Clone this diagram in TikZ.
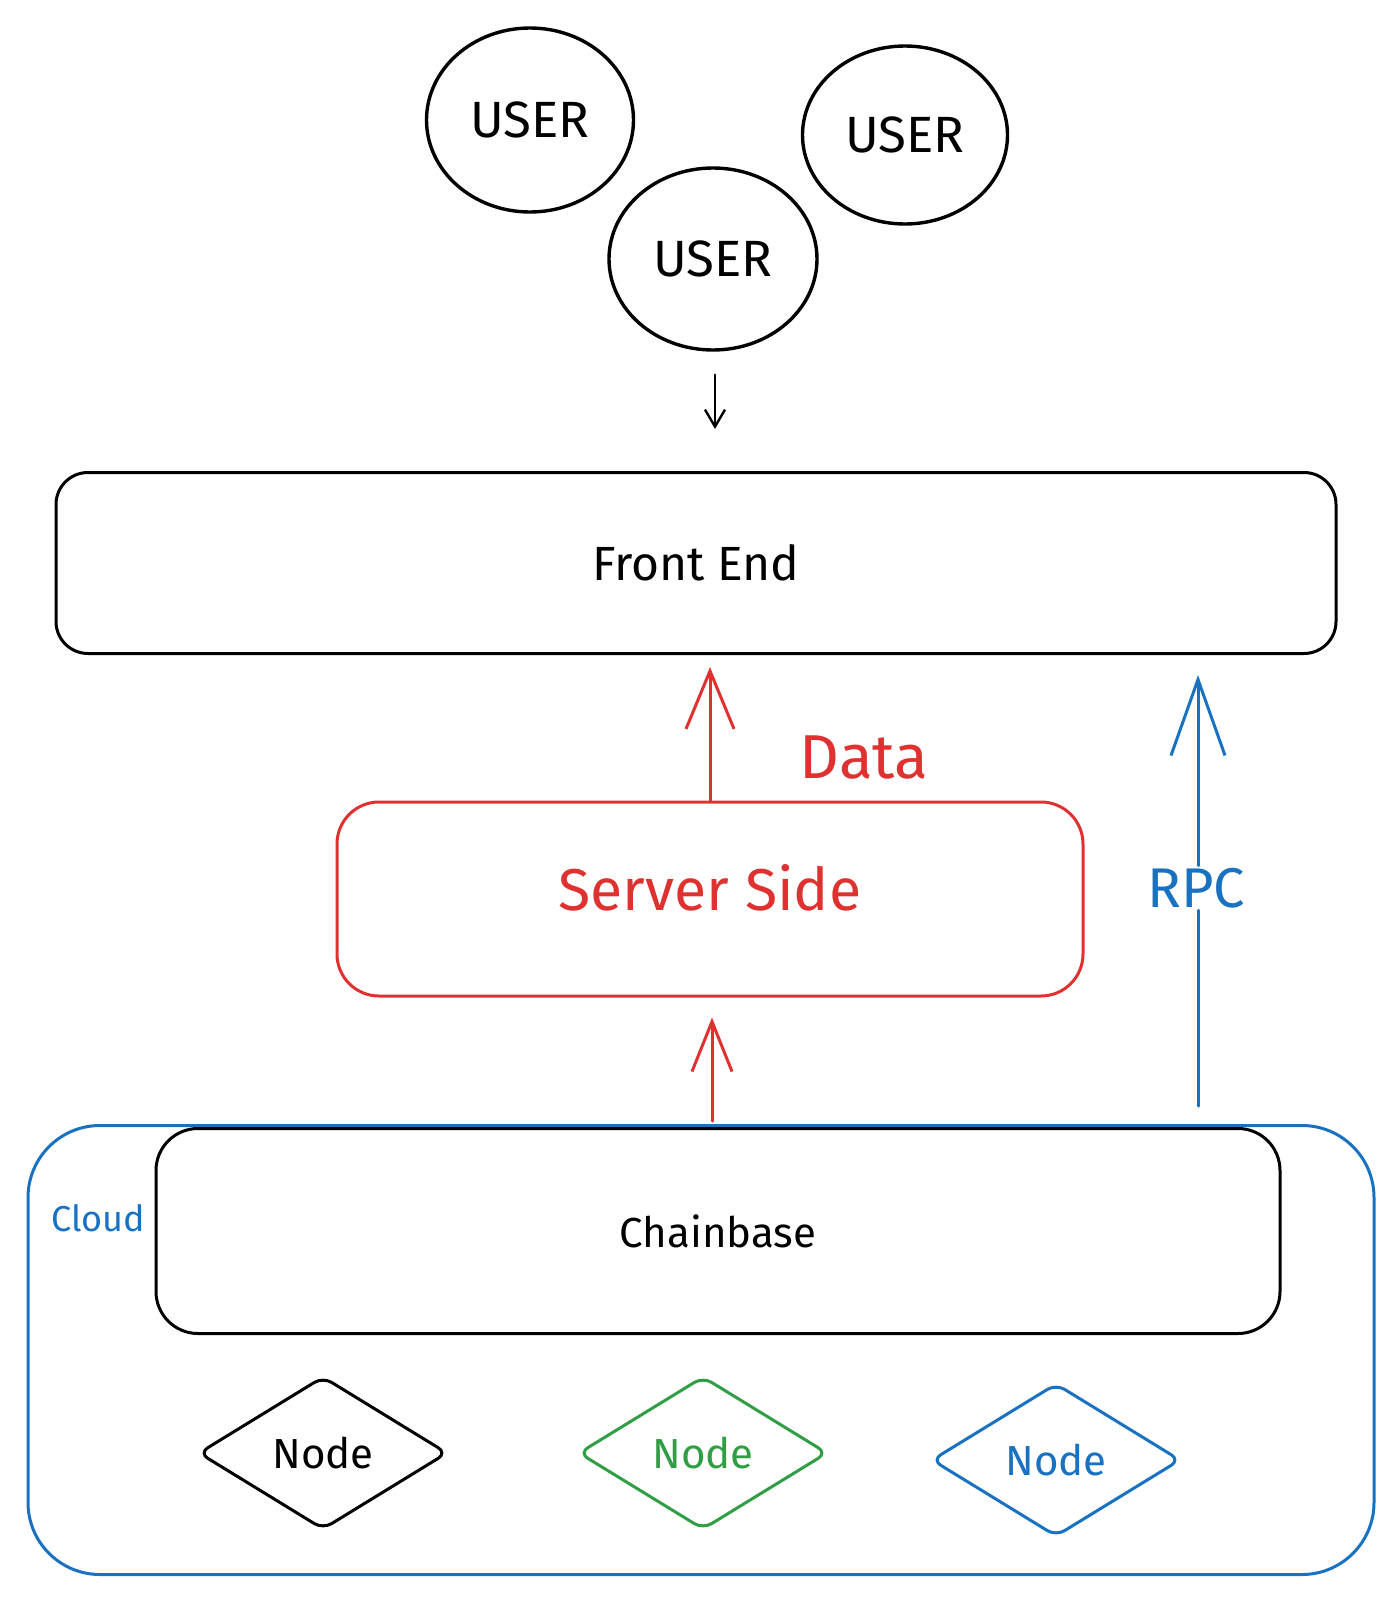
\documentclass[tikz,border=0pt]{standalone}
\usepackage{fontspec}
\setmainfont{Fira Sans}
\usetikzlibrary{arrows.meta,shapes.geometric,calc}
\definecolor{xred}{HTML}{E03131}
\definecolor{xgreen}{HTML}{2F9E44}
\definecolor{xblue}{HTML}{1971C2}
\begin{document}
\begin{tikzpicture}[x=1pt,y=-1pt,
  line width=3pt, line join=round, line cap=round,
  user/.style={draw,ellipse,inner sep=0pt,line width=3.4pt,font=\fontsize{51}{58}\selectfont},
  box/.style={draw,rectangle,inner sep=0pt},
  dnode/.style={draw,diamond,inner sep=0pt,minimum width=249pt,minimum height=153pt,
    aspect=1.63,rounded corners=10pt,font=\fontsize{42}{48}\selectfont},
  lbl/.style={inner sep=2pt,font=\fontsize{#1}{#1}\selectfont},
  barbA/.style={-{Straight Barb[length=58pt,width=48pt]}},
  barbB/.style={-{Straight Barb[length=50pt,width=40pt]}},
  barbC/.style={-{Straight Barb[length=76pt,width=54pt]}},
  barbD/.style={-{Straight Barb[length=17pt,width=20pt]}}]
\useasboundingbox (0,0) rectangle (1400,1601);

% users
\node[user,minimum width=207pt,minimum height=184pt] (u1) at (530,120) {USER};
\node[user,minimum width=205pt,minimum height=178pt] (u2) at (905,135) {USER};
\node[user,minimum width=208pt,minimum height=182pt] (u3) at (713,259) {USER};

% front end
\node[box,rounded corners=32pt,minimum width=1280pt,minimum height=181pt,
      font=\fontsize{48}{54}\selectfont] (fe) at (696,563) {Front End};

% server side
\node[box,draw=xred,rounded corners=42pt,minimum width=746pt,minimum height=194pt,
      label={[lbl=59,text=xred,yshift=11pt]center:Server Side}] (ss) at (710,899) {};
\node[lbl=62,text=xred] (data) at (864,758) {Data};

% cloud
\node[box,draw=xblue,rounded corners=72pt,minimum width=1346pt,minimum height=449pt] (cloud) at (701,1350) {};
\node[lbl=36,text=xblue] (cl) at (98,1218) {Cloud};
\node[box,rounded corners=42pt,minimum width=1124pt,minimum height=205pt,
      font=\fontsize{42}{48}\selectfont] (cb) at (718,1231) {Chainbase};

% nodes
\node[dnode] (n1) at (323,1453) {Node};
\node[dnode,draw=xgreen,text=xgreen] (n2) at (703,1453) {Node};
\node[dnode,draw=xblue,text=xblue] (n3) at (1056,1460) {Node};

% RPC label
\node[lbl=56,text=xblue,inner sep=1pt] (rpc) at (1196,888) {RPC};

% connectors
\draw[barbD,line width=2.4pt] ($(u3.south)+(2,23)$) -- ($(u3.south |- fe.north)+(2,-42)$);
\draw[barbA,xred] (ss.north) -- ($(ss.north |- fe.south)+(0,12)$);
\draw[barbB,xred] ($(ss.south |- cloud.north)+(2,-3)$) -- ($(ss.south)+(2,20)$);
\draw[xblue] ($(rpc |- cloud.north)+(2,-18)$) -- ($(rpc.south)+(2,0)$);
\draw[barbC,xblue] ($(rpc.north)+(2,0)$) -- ($(rpc |- fe.south)+(2,20)$);
\end{tikzpicture}
\end{document}
